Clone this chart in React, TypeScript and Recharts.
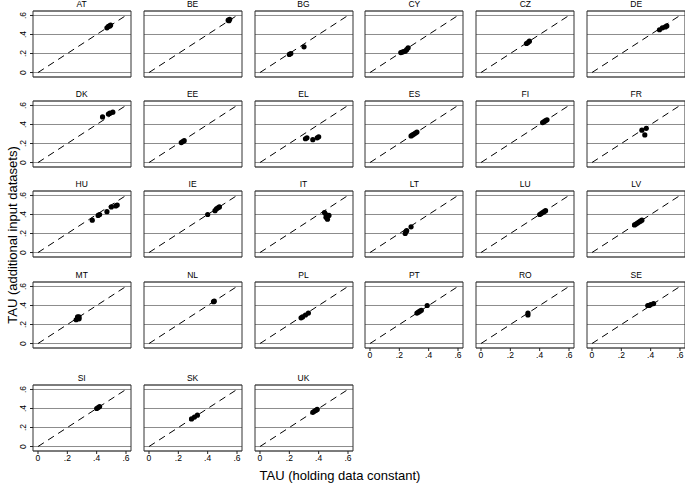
import React from 'react';
import { ScatterChart, Scatter, XAxis, YAxis, CartesianGrid, ReferenceLine, ReferenceArea } from 'recharts';

type P = { x: number; y: number };

const AT: P[] = [{ x: 0.47, y: 0.47 }, { x: 0.48, y: 0.485 }, { x: 0.49, y: 0.49 }, { x: 0.495, y: 0.5 }];
const BE: P[] = [{ x: 0.54, y: 0.55 }, { x: 0.55, y: 0.56 }, { x: 0.545, y: 0.545 }];
const BG: P[] = [{ x: 0.2, y: 0.19 }, { x: 0.21, y: 0.2 }, { x: 0.3, y: 0.27 }];
const CY: P[] = [{ x: 0.21, y: 0.21 }, { x: 0.22, y: 0.215 }, { x: 0.23, y: 0.22 }, { x: 0.24, y: 0.225 }, { x: 0.25, y: 0.24 }, { x: 0.26, y: 0.26 }];
const CZ: P[] = [{ x: 0.31, y: 0.305 }, { x: 0.32, y: 0.315 }, { x: 0.33, y: 0.33 }];
const DE: P[] = [{ x: 0.46, y: 0.45 }, { x: 0.48, y: 0.47 }, { x: 0.5, y: 0.48 }, { x: 0.51, y: 0.49 }];
const DK: P[] = [{ x: 0.44, y: 0.48 }, { x: 0.48, y: 0.51 }, { x: 0.49, y: 0.52 }, { x: 0.51, y: 0.53 }];
const EE: P[] = [{ x: 0.22, y: 0.21 }, { x: 0.23, y: 0.22 }, { x: 0.24, y: 0.23 }];
const EL: P[] = [{ x: 0.31, y: 0.25 }, { x: 0.32, y: 0.26 }, { x: 0.36, y: 0.24 }, { x: 0.39, y: 0.26 }, { x: 0.4, y: 0.27 }];
const ES: P[] = [{ x: 0.28, y: 0.28 }, { x: 0.29, y: 0.29 }, { x: 0.3, y: 0.3 }, { x: 0.31, y: 0.31 }, { x: 0.32, y: 0.32 }];
const FI: P[] = [{ x: 0.42, y: 0.42 }, { x: 0.43, y: 0.43 }, { x: 0.44, y: 0.44 }, { x: 0.45, y: 0.45 }];
const FR: P[] = [{ x: 0.34, y: 0.34 }, { x: 0.37, y: 0.36 }, { x: 0.36, y: 0.29 }];
const HU: P[] = [{ x: 0.37, y: 0.34 }, { x: 0.41, y: 0.39 }, { x: 0.42, y: 0.4 }, { x: 0.47, y: 0.43 }, { x: 0.5, y: 0.48 }, { x: 0.53, y: 0.49 }, { x: 0.54, y: 0.5 }];
const IE: P[] = [{ x: 0.4, y: 0.4 }, { x: 0.45, y: 0.44 }, { x: 0.46, y: 0.46 }, { x: 0.47, y: 0.47 }, { x: 0.48, y: 0.48 }];
const IT: P[] = [{ x: 0.44, y: 0.42 }, { x: 0.45, y: 0.4 }, { x: 0.47, y: 0.39 }, { x: 0.46, y: 0.35 }, { x: 0.45, y: 0.37 }];
const LT: P[] = [{ x: 0.24, y: 0.2 }, { x: 0.245, y: 0.22 }, { x: 0.25, y: 0.23 }, { x: 0.28, y: 0.27 }];
const LU: P[] = [{ x: 0.4, y: 0.4 }, { x: 0.41, y: 0.41 }, { x: 0.42, y: 0.42 }, { x: 0.43, y: 0.43 }, { x: 0.44, y: 0.44 }];
const LV: P[] = [{ x: 0.29, y: 0.29 }, { x: 0.3, y: 0.3 }, { x: 0.31, y: 0.31 }, { x: 0.32, y: 0.32 }, { x: 0.33, y: 0.33 }, { x: 0.34, y: 0.34 }];
const MT: P[] = [{ x: 0.26, y: 0.25 }, { x: 0.27, y: 0.27 }, { x: 0.27, y: 0.28 }, { x: 0.28, y: 0.28 }, { x: 0.28, y: 0.26 }];
const NL: P[] = [{ x: 0.44, y: 0.44 }, { x: 0.445, y: 0.445 }];
const PL: P[] = [{ x: 0.28, y: 0.27 }, { x: 0.29, y: 0.28 }, { x: 0.31, y: 0.3 }, { x: 0.33, y: 0.32 }];
const PT: P[] = [{ x: 0.32, y: 0.32 }, { x: 0.33, y: 0.33 }, { x: 0.34, y: 0.34 }, { x: 0.35, y: 0.35 }, { x: 0.39, y: 0.4 }];
const RO: P[] = [{ x: 0.32, y: 0.3 }, { x: 0.32, y: 0.32 }];
const SE: P[] = [{ x: 0.38, y: 0.4 }, { x: 0.39, y: 0.4 }, { x: 0.4, y: 0.41 }, { x: 0.42, y: 0.42 }];
const SI: P[] = [{ x: 0.4, y: 0.4 }, { x: 0.41, y: 0.41 }, { x: 0.42, y: 0.42 }];
const SK: P[] = [{ x: 0.29, y: 0.29 }, { x: 0.31, y: 0.31 }, { x: 0.33, y: 0.33 }];
const UK: P[] = [{ x: 0.36, y: 0.36 }, { x: 0.37, y: 0.37 }, { x: 0.38, y: 0.38 }, { x: 0.39, y: 0.39 }];

const countries = ['AT', 'BE', 'BG', 'CY', 'CZ', 'DE', 'DK', 'EE', 'EL', 'ES', 'FI', 'FR', 'HU', 'IE', 'IT', 'LT', 'LU', 'LV', 'MT', 'NL', 'PL', 'PT', 'RO', 'SE', 'SI', 'SK', 'UK'];
const series: P[][] = [AT, BE, BG, CY, CZ, DE, DK, EE, EL, ES, FI, FR, HU, IE, IT, LT, LU, LV, MT, NL, PL, PT, RO, SE, SI, SK, UK];

const tickValues = [0, 0.2, 0.4, 0.6];
const tickLabels = ['0', '.2', '.4', '.6'];
const yTitle = 'TAU (additional input datasets)';
const xTitle = 'TAU (holding data constant)';

const FONT = '"Liberation Sans", Arial, Helvetica, sans-serif';
const XDOM: [number, number] = [-0.034, 0.634];
const YDOM: [number, number] = [-0.047, 0.647];
const BOX_W = 98;
const BOX_H = 66;
const Y_AXIS_W = 25;
const X_AXIS_H = 20;
const TOP_M = 14;
const colLeft = [32.7, 143.6, 254.5, 365.4, 476.3, 587.2];
const rowTop = [11, 101, 191, 281.5, 385];

const fmt = (v: number) => tickLabels[tickValues.findIndex((t) => Math.abs(t - v) < 1e-6)] ?? String(v);

const YTick = (props: any) => {
  const { x, y, payload } = props;
  return (
    <text x={x} y={y} transform={`rotate(-90 ${x} ${y})`} textAnchor="middle" fontSize={8.5} fontFamily={FONT} fill="#000">
      {fmt(payload.value)}
    </text>
  );
};

const XTick = (props: any) => {
  const { x, y, payload } = props;
  return (
    <text x={x} y={y} dy="0.71em" textAnchor="middle" fontSize={8.5} fontFamily={FONT} fill="#000">
      {fmt(payload.value)}
    </text>
  );
};

const NoTick = () => <g />;

const Dot = (props: any) => <circle cx={props.cx} cy={props.cy} r={2.6} fill="#000" />;

const Panel = ({ idx }: { idx: number }) => {
  const row = Math.floor(idx / 6);
  const col = idx % 6;
  const showX = idx >= countries.length - 6;
  const showY = col === 0;
  const left = colLeft[col] - Y_AXIS_W;
  const top = rowTop[row] - TOP_M;
  return (
    <div style={{ position: 'absolute', left, top, width: Y_AXIS_W + BOX_W + 2, height: TOP_M + BOX_H + X_AXIS_H }}>
      <div
        style={{
          position: 'absolute',
          left: Y_AXIS_W,
          top: TOP_M - 11,
          width: BOX_W,
          textAlign: 'center',
          fontSize: 8.5,
          lineHeight: '9px',
          fontFamily: FONT,
          color: '#000',
        }}
      >
        {countries[idx]}
      </div>
      <ScatterChart
        width={Y_AXIS_W + BOX_W + 2}
        height={TOP_M + BOX_H + X_AXIS_H}
        margin={{ top: TOP_M, right: 2, left: 0, bottom: 0 }}
      >
        <CartesianGrid vertical={false} stroke="#8c8c8c" strokeWidth={1} />
        <XAxis
          type="number"
          dataKey="x"
          domain={XDOM}
          ticks={tickValues}
          interval={0}
          allowDataOverflow
          height={X_AXIS_H}
          axisLine={false}
          tickLine={showX ? { stroke: '#222' } : false}
          tick={showX ? <XTick /> : <NoTick />}
          tickSize={3}
          tickMargin={1}
        />
        <YAxis
          type="number"
          dataKey="y"
          domain={YDOM}
          ticks={tickValues}
          interval={0}
          allowDataOverflow
          width={Y_AXIS_W}
          axisLine={false}
          tickLine={showY ? { stroke: '#222' } : false}
          tick={showY ? <YTick /> : <NoTick />}
          tickSize={3}
          tickMargin={4}
        />
        <ReferenceArea x1={XDOM[0]} x2={XDOM[1]} y1={YDOM[0]} y2={YDOM[1]} fill="none" stroke="#333" strokeWidth={1} ifOverflow="visible" />
        <ReferenceLine
          segment={[{ x: 0, y: 0 }, { x: 0.6, y: 0.6 }]}
          stroke="#000"
          strokeWidth={1}
          strokeDasharray="7 5"
        />
        <Scatter data={series[idx]} shape={<Dot />} isAnimationActive={false} />
      </ScatterChart>
    </div>
  );
};

export default function App() {
  return (
    <div style={{ position: 'absolute', left: 0, top: 0, width: 685, height: 483, background: '#fff', overflow: 'hidden' }}>
      {countries.map((c, i) => (
        <Panel key={c} idx={i} />
      ))}
      <div
        style={{
          position: 'absolute',
          left: 12,
          top: 235,
          transform: 'translate(-50%, -50%) rotate(-90deg)',
          whiteSpace: 'nowrap',
          fontSize: 13,
          fontFamily: FONT,
          color: '#000',
        }}
      >
        {yTitle}
      </div>
      <div
        style={{
          position: 'absolute',
          left: 340,
          top: 475,
          transform: 'translate(-50%, -50%)',
          whiteSpace: 'nowrap',
          fontSize: 13,
          fontFamily: FONT,
          color: '#000',
        }}
      >
        {xTitle}
      </div>
    </div>
  );
}
